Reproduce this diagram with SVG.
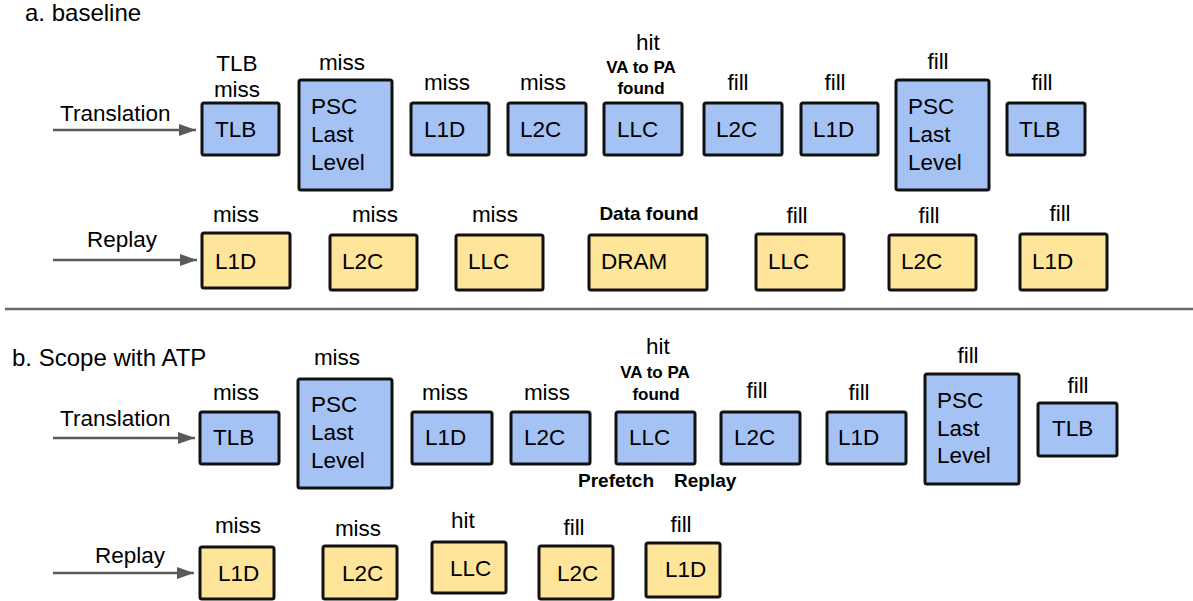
<svg xmlns="http://www.w3.org/2000/svg" width="1193" height="601" viewBox="0 0 1193 601">
<defs>
<style>
text{font-family:"Liberation Sans",Arial,sans-serif;font-size:22.5px;fill:#000}
.t{font-size:24px}
.c{text-anchor:middle}
.b{font-weight:bold;font-size:17px}
.b19{font-weight:bold;font-size:19px}
.blue{fill:#a4c2f4;stroke:#111;stroke-width:3}
.yel{fill:#ffe599;stroke:#111;stroke-width:3}
.arr{stroke:#595959;stroke-width:2.5;fill:none}
</style>
<marker id="ah" markerUnits="userSpaceOnUse" markerWidth="18" markerHeight="12" refX="17" refY="6" orient="auto">
<path d="M0,0 L17,6 L0,12 z" fill="#595959"/>
</marker>
</defs>
<rect width="1193" height="601" fill="#fff"/>

<text class="t" x="25" y="21">a. baseline</text>
<text class="t" x="12" y="366">b. Scope with ATP</text>
<line x1="5" y1="309" x2="1193" y2="309" stroke="#666" stroke-width="2.5"/>

<g id="connectors">
<line class="arr" x1="53" y1="130" x2="196" y2="130" marker-end="url(#ah)"/>
<line class="arr" x1="53" y1="260" x2="197" y2="260" marker-end="url(#ah)"/>
<line class="arr" x1="53" y1="438" x2="195" y2="438" marker-end="url(#ah)"/>
<line class="arr" x1="53" y1="573" x2="194" y2="573" marker-end="url(#ah)"/>
</g>

<g id="labels">
<text x="60" y="121">Translation</text>
<text x="87" y="247">Replay</text>
<text x="60" y="426">Translation</text>
<text x="95" y="563">Replay</text>
</g>

<!-- a. translation row -->
<g id="a-tlb"><text class="c" x="237" y="71">TLB</text><text class="c" x="237" y="97">miss</text><rect class="blue" x="202" y="103" width="77" height="52" rx="2"/><text x="215" y="137">TLB</text></g>
<g id="a-psc"><text class="c" x="342" y="70">miss</text><rect class="blue" x="299" y="80" width="93" height="110" rx="2"/><text x="311" y="114">PSC</text><text x="311" y="142">Last</text><text x="311" y="170">Level</text></g>
<g id="a-l1d"><text class="c" x="447" y="90">miss</text><rect class="blue" x="411" y="103" width="78" height="52" rx="2"/><text x="424" y="137">L1D</text></g>
<g id="a-l2c"><text class="c" x="543" y="90">miss</text><rect class="blue" x="508" y="103" width="78" height="52" rx="2"/><text x="520" y="137">L2C</text></g>
<g id="a-llc"><text class="c" x="648" y="50">hit</text><text class="c b" x="641" y="73">VA to PA</text><text class="c b" x="641" y="94">found</text><rect class="blue" x="604" y="103" width="78" height="52" rx="2"/><text x="617" y="137">LLC</text></g>
<g id="a-l2c-fill"><text class="c" x="738" y="90">fill</text><rect class="blue" x="704" y="103" width="78" height="52" rx="2"/><text x="716" y="137">L2C</text></g>
<g id="a-l1d-fill"><text class="c" x="835" y="90">fill</text><rect class="blue" x="801" y="103" width="77" height="52" rx="2"/><text x="813" y="137">L1D</text></g>
<g id="a-psc-fill"><text class="c" x="938" y="69">fill</text><rect class="blue" x="896" y="80" width="93" height="110" rx="2"/><text x="908" y="114">PSC</text><text x="908" y="142">Last</text><text x="908" y="170">Level</text></g>
<g id="a-tlb-fill"><text class="c" x="1042" y="90">fill</text><rect class="blue" x="1007" y="103" width="78" height="52" rx="2"/><text x="1019" y="137">TLB</text></g>

<!-- a. replay row -->
<g id="a-r-l1d"><text class="c" x="236" y="222">miss</text><rect class="yel" x="202" y="233" width="88" height="55" rx="2"/><text x="215" y="269">L1D</text></g>
<g id="a-r-l2c"><text class="c" x="375" y="222">miss</text><rect class="yel" x="330" y="235" width="87" height="55" rx="2"/><text x="342" y="269">L2C</text></g>
<g id="a-r-llc"><text class="c" x="495" y="222">miss</text><rect class="yel" x="456" y="235" width="87" height="55" rx="2"/><text x="468" y="269">LLC</text></g>
<g id="a-r-dram"><text class="c b19" x="649" y="220">Data found</text><rect class="yel" x="589" y="235" width="118" height="55" rx="2"/><text x="601" y="269">DRAM</text></g>
<g id="a-r-llc-fill"><text class="c" x="797" y="223">fill</text><rect class="yel" x="756" y="234" width="88" height="56" rx="2"/><text x="768" y="269">LLC</text></g>
<g id="a-r-l2c-fill"><text class="c" x="929" y="223">fill</text><rect class="yel" x="889" y="235" width="87" height="55" rx="2"/><text x="901" y="269">L2C</text></g>
<g id="a-r-l1d-fill"><text class="c" x="1060" y="221">fill</text><rect class="yel" x="1020" y="234" width="87" height="56" rx="2"/><text x="1032" y="269">L1D</text></g>

<!-- b. translation row -->
<g id="b-tlb"><text class="c" x="236" y="400">miss</text><rect class="blue" x="200" y="412" width="79" height="52" rx="2"/><text x="213" y="445">TLB</text></g>
<g id="b-psc"><text class="c" x="337" y="365">miss</text><rect class="blue" x="298" y="379" width="94" height="109" rx="2"/><text x="311" y="412">PSC</text><text x="311" y="440">Last</text><text x="311" y="468">Level</text></g>
<g id="b-l1d"><text class="c" x="445" y="400">miss</text><rect class="blue" x="412" y="412" width="80" height="52" rx="2"/><text x="425" y="445">L1D</text></g>
<g id="b-l2c"><text class="c" x="547" y="400">miss</text><rect class="blue" x="511" y="412" width="79" height="52" rx="2"/><text x="524" y="445">L2C</text></g>
<g id="b-llc"><text class="c" x="658" y="354">hit</text><text class="c b" x="655" y="378">VA to PA</text><text class="c b" x="656" y="400">found</text><rect class="blue" x="616" y="412" width="79" height="52" rx="2"/><text x="629" y="445">LLC</text><text class="b19" x="578" y="487">Prefetch</text><text class="b19" x="674" y="487">Replay</text></g>
<g id="b-l2c-fill"><text class="c" x="757" y="398">fill</text><rect class="blue" x="721" y="412" width="79" height="52" rx="2"/><text x="734" y="445">L2C</text></g>
<g id="b-l1d-fill"><text class="c" x="859" y="400">fill</text><rect class="blue" x="827" y="412" width="79" height="52" rx="2"/><text x="838" y="445">L1D</text></g>
<g id="b-psc-fill"><text class="c" x="968" y="363">fill</text><rect class="blue" x="925" y="374" width="94" height="110" rx="2"/><text x="937" y="408">PSC</text><text x="937" y="436">Last</text><text x="937" y="463">Level</text></g>
<g id="b-tlb-fill"><text class="c" x="1078" y="393">fill</text><rect class="blue" x="1038" y="403" width="79" height="53" rx="2"/><text x="1052" y="436">TLB</text></g>

<!-- b. replay row -->
<g id="b-r-l1d"><text class="c" x="238" y="533">miss</text><rect class="yel" x="200" y="547" width="74" height="52" rx="2"/><text x="218" y="581">L1D</text></g>
<g id="b-r-l2c"><text class="c" x="358" y="536">miss</text><rect class="yel" x="323" y="546" width="74" height="53" rx="2"/><text x="342" y="581">L2C</text></g>
<g id="b-r-llc"><text class="c" x="463" y="528">hit</text><rect class="yel" x="432" y="542" width="74" height="51" rx="2"/><text x="450" y="576">LLC</text></g>
<g id="b-r-l2c-fill"><text class="c" x="574" y="535">fill</text><rect class="yel" x="539" y="546" width="74" height="53" rx="2"/><text x="557" y="581">L2C</text></g>
<g id="b-r-l1d-fill"><text class="c" x="681" y="532">fill</text><rect class="yel" x="646" y="543" width="74" height="54" rx="2"/><text x="665" y="577">L1D</text></g>
</svg>
